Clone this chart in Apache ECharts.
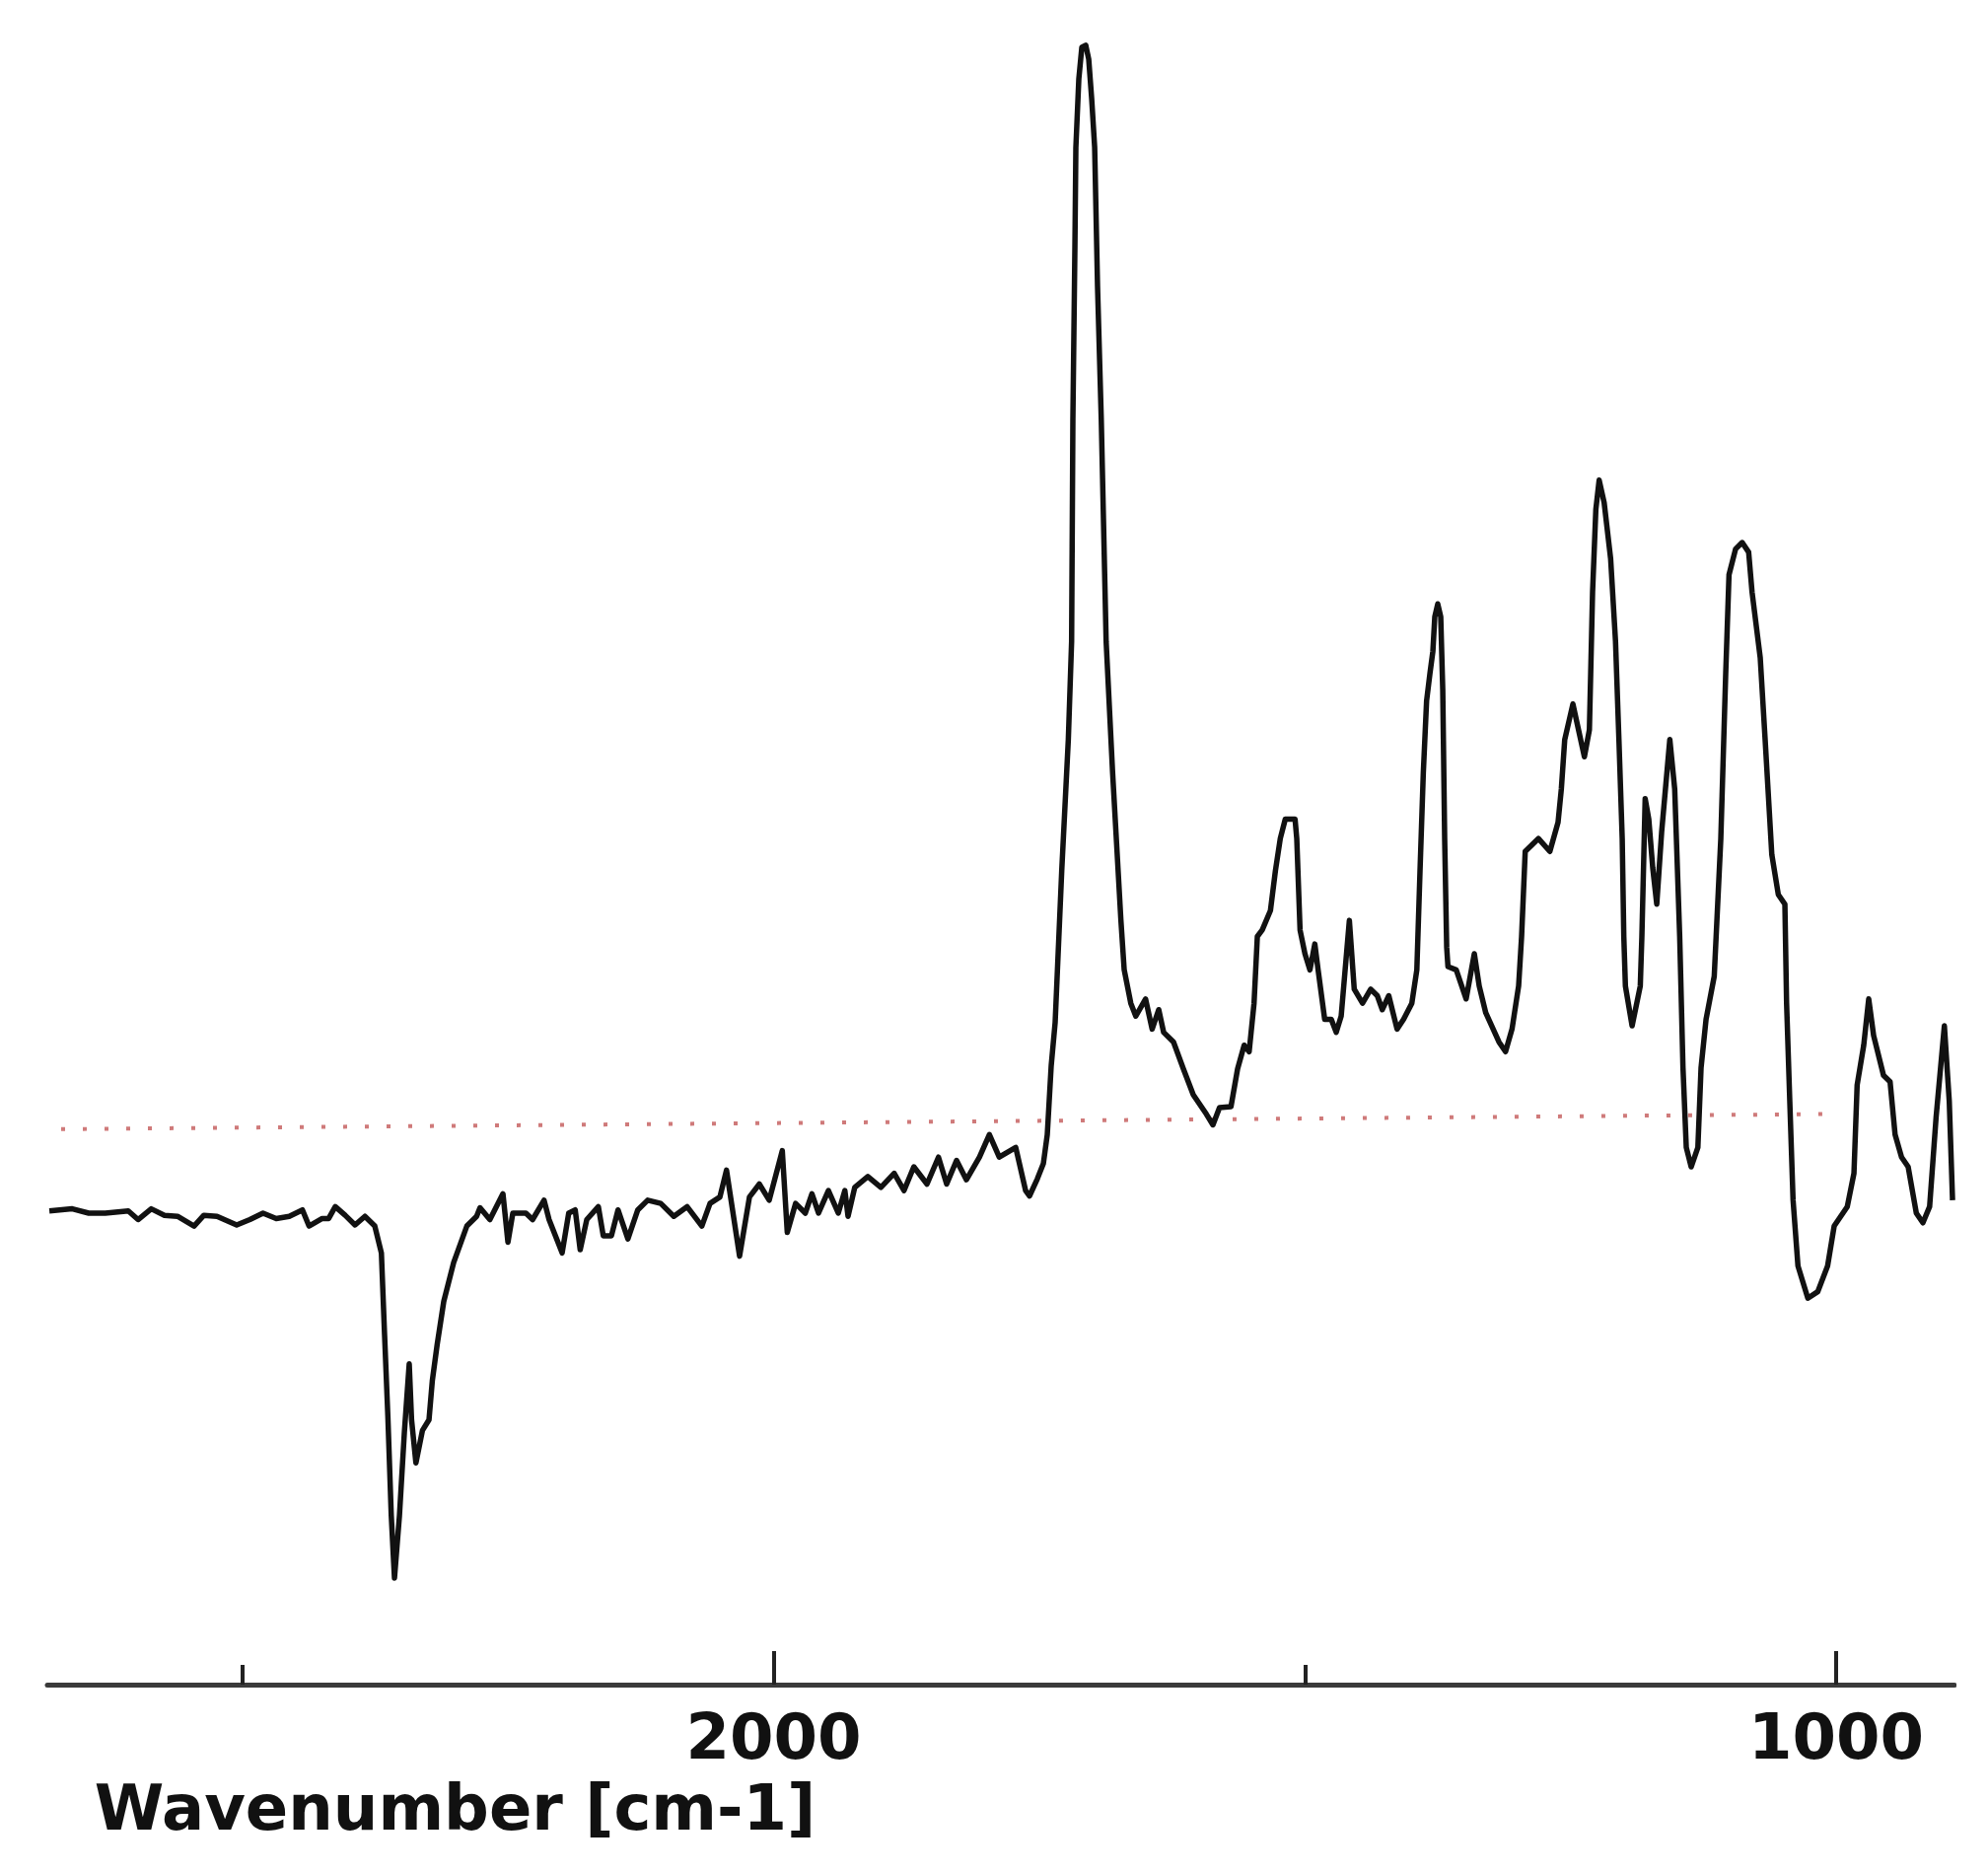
<!DOCTYPE html>
<html>
<head>
<meta charset="utf-8">
<script src="https://cdn.jsdelivr.net/npm/echarts@6/dist/echarts.min.js"></script>
<style>
  html, body { margin: 0; padding: 0; background: #ffffff; }
  #clip { position: absolute; left: 0; top: 0; width: 1984px; height: 1899px; overflow: hidden; background: #fff; }
  #chart { width: 2016px; height: 1899px; }
</style>
</head>
<body>
<div id="clip"><div id="chart"></div></div>
<script>
// Wavenumber (cm-1) positions
const wavenumbers = [
  2681.7, 2660.1, 2644.6, 2629.1, 2607.4, 2598.2, 2585.8, 2573.4, 2561.1, 2545.5, 2536.3, 2523.9, 2505.4, 2493.0, 2480.6, 2468.2, 2455.9, 2443.5, 2437.3, 2424.9, 2418.8, 2412.6, 2403.3, 2394.0, 2384.7, 2375.4, 2369.2, 2366.2, 2363.1, 2359.9, 2356.9, 2352.2, 2347.6, 2343.0, 2340.8, 2336.7, 2330.6, 2324.4, 2321.3, 2316.7, 2310.5, 2301.2, 2288.8, 2279.6, 2276.4, 2267.1, 2254.8, 2250.1, 2245.5, 2233.2, 2226.9,
  2216.1, 2211.4, 2199.1, 2192.9, 2186.8, 2182.1, 2175.9, 2165.0, 2160.4, 2152.7, 2146.5, 2137.2, 2127.9, 2118.6, 2106.3, 2094.0, 2081.5, 2067.6, 2059.9, 2050.6, 2044.4, 2032.1, 2022.8, 2013.5, 2004.2, 1991.9, 1987.2, 1979.4, 1970.2, 1964.0, 1957.8, 1948.5, 1939.2, 1933.0, 1930.0, 1923.7, 1911.4, 1899.1, 1886.6, 1877.3, 1868.1, 1855.7, 1844.9, 1837.2, 1827.9, 1818.6, 1806.3, 1797.0, 1787.7, 1772.2, 1762.9,
  1759.2, 1751.8, 1746.2, 1742.5, 1738.8, 1735.1, 1728.9, 1722.7, 1719.6, 1718.4, 1716.5, 1715.6, 1712.8, 1710.0, 1706.3, 1703.5, 1700.7, 1697.9, 1695.2, 1691.7, 1687.1, 1681.0, 1673.2, 1670.1, 1663.9, 1659.2, 1650.0, 1643.8, 1637.6, 1633.0, 1623.7, 1614.4, 1605.1, 1592.8, 1586.6, 1580.4, 1569.6, 1563.4, 1557.2, 1552.5, 1547.9, 1544.8, 1540.2, 1532.5, 1527.8, 1523.2, 1518.5, 1509.3, 1507.7, 1504.6, 1500.0, 1495.3, 1490.7, 1487.6, 1481.4, 1475.2, 1470.6, 1465.9, 1458.2, 1453.6, 1445.8, 1438.1, 1431.9, 1427.2, 1421.1, 1413.3, 1407.2, 1399.4, 1394.7, 1391.7, 1388.6, 1385.5, 1382.4,
  1379.6, 1377.8, 1375.0, 1372.2, 1370.3, 1368.5, 1366.6, 1365.4, 1357.6, 1348.3, 1340.6, 1336.0, 1329.8, 1317.4, 1311.2, 1305.1, 1298.9,
  1296.1, 1292.7, 1280.3, 1269.5, 1261.8, 1258.7, 1255.5, 1247.8, 1243.2, 1237.0, 1232.3, 1229.3, 1226.2, 1223.1, 1218.4, 1212.3, 1207.7, 1204.5, 1201.4, 1199.9, 1198.4, 1192.1, 1184.4, 1182.9, 1179.8, 1176.4, 1172.7, 1168.9, 1164.3, 1156.6, 1152.0, 1147.3, 1144.2, 1141.1, 1136.5, 1130.2, 1127.2, 1122.5, 1114.8, 1108.6, 1104.0, 1100.9, 1094.7, 1088.5, 1082.4, 1079.2, 1071.5, 1066.9, 1060.6, 1054.5, 1048.3, 1046.7, 1043.7, 1040.6, 1036.0, 1026.7, 1017.4, 1008.1, 1001.9, 989.6, 983.3, 980.3, 974.1, 969.4, 964.8, 955.5, 949.3, 944.6, 938.5, 932.3, 924.6, 918.4, 912.1, 906.0, 898.2, 893.6, 890.5
];

// Signal (arbitrary units, dotted baseline = 0)
const absorbance = [
  -0.080, -0.078, -0.082, -0.082, -0.080, -0.088, -0.078, -0.084, -0.085, -0.094, -0.084, -0.085, -0.093, -0.088, -0.082, -0.087, -0.085, -0.079, -0.094, -0.087, -0.087, -0.076, -0.084, -0.093, -0.085, -0.094, -0.119, -0.195, -0.271, -0.363, -0.421, -0.363, -0.286, -0.222, -0.274, -0.314, -0.284, -0.274, -0.238, -0.204, -0.164, -0.128, -0.094, -0.085, -0.077, -0.088, -0.064, -0.109, -0.082, -0.082, -0.088,
  -0.070, -0.088, -0.119, -0.082, -0.079, -0.116, -0.088, -0.076, -0.103, -0.103, -0.079, -0.106, -0.079, -0.070, -0.073, -0.085, -0.076, -0.094, -0.073, -0.067, -0.042, -0.122, -0.067, -0.055, -0.070, -0.024, -0.100, -0.073, -0.082, -0.064, -0.082, -0.061, -0.082, -0.061, -0.085, -0.058, -0.048, -0.058, -0.045, -0.061, -0.039, -0.055, -0.030, -0.055, -0.033, -0.051, -0.030, -0.009, -0.030, -0.021, -0.061,
  -0.066, -0.050, -0.036, -0.009, 0.055, 0.095, 0.236, 0.358, 0.449, 0.656, 0.816, 0.908, 0.972, 1.001, 1.003, 0.990, 0.953, 0.908, 0.779, 0.656, 0.449, 0.327, 0.190, 0.144, 0.113, 0.101, 0.117, 0.089, 0.107, 0.086, 0.077, 0.052, 0.028, 0.010, 0.000, 0.016, 0.017, 0.052, 0.074, 0.068, 0.113, 0.175, 0.181, 0.199, 0.236, 0.266, 0.284, 0.284, 0.266, 0.181, 0.159, 0.144, 0.168, 0.144, 0.098, 0.098, 0.086, 0.101, 0.190, 0.126, 0.113, 0.126, 0.120, 0.107, 0.120, 0.089, 0.098, 0.113, 0.144, 0.236, 0.327, 0.394, 0.419,
  0.440, 0.472, 0.484, 0.472, 0.404, 0.266, 0.165, 0.147, 0.144, 0.117, 0.159, 0.129, 0.104, 0.077, 0.068, 0.089, 0.129,
  0.175, 0.254, 0.266, 0.254, 0.281, 0.312, 0.358, 0.391, 0.370, 0.342, 0.367, 0.495, 0.572, 0.599, 0.578, 0.526, 0.449, 0.358, 0.266, 0.175, 0.129, 0.092, 0.129, 0.175, 0.303, 0.284, 0.239, 0.205, 0.272, 0.358, 0.312, 0.175, 0.053, -0.021, -0.039, -0.021, 0.053, 0.098, 0.138, 0.266, 0.419, 0.511, 0.535, 0.541, 0.532, 0.495, 0.434, 0.358, 0.251, 0.214, 0.205, 0.113, 0.022, -0.070, -0.131, -0.161, -0.155, -0.131, -0.094, -0.076, -0.045, 0.037, 0.074, 0.117, 0.083, 0.046, 0.040, -0.009, -0.030, -0.039, -0.082, -0.091, -0.076, 0.007, 0.092, 0.022, -0.070
];

// Dotted reference (zero) line, ends
const baselineWavenumbers = [2670.6, 1011.2];
const baselineValues = [-0.004, 0.010];

// Axis ticks and labels
const labelledTicks = [2000, 1000];
const minorTicks = [2500, 1500];
const axisTitle = 'Wavenumber [cm-1]';
const xMin = 888.7, xMax = 2683.6;
const yMin = -0.52, yMax = 1.0;

const spectrum = wavenumbers.map((w, i) => [w, absorbance[i]]);
const baseline = baselineWavenumbers.map((w, i) => [w, baselineValues[i]]);

const FONT = 'DejaVu Sans';
const chart = echarts.init(document.getElementById('chart'), null, { renderer: 'canvas' });
chart.setOption({
  animation: false,
  backgroundColor: '#ffffff',
  grid: { left: 48, right: 34, top: 49.1, bottom: 191, containLabel: false },
  xAxis: [
    {
      type: 'value', min: xMin, max: xMax, inverse: true, position: 'bottom',
      axisLine: { show: true, onZero: false, lineStyle: { color: '#3a3a3a', width: 5 } },
      axisTick: { show: true, inside: true, length: 34, customValues: labelledTicks, lineStyle: { color: '#222', width: 4 } },
      axisLabel: {
        show: true, customValues: labelledTicks, formatter: v => String(v), margin: 26,
        fontSize: 64, fontFamily: FONT, fontWeight: 'bold', color: '#111'
      },
      splitLine: { show: false },
      name: axisTitle, nameLocation: 'middle', nameGap: 98,
      nameTextStyle: { fontSize: 64, fontFamily: FONT, fontWeight: 'bold', color: '#111', padding: [0, 1107, 0, 0] }
    },
    {
      type: 'value', min: xMin, max: xMax, inverse: true, position: 'bottom',
      axisLine: { show: false, onZero: false },
      axisTick: { show: true, inside: true, length: 20, customValues: minorTicks, lineStyle: { color: '#222', width: 4 } },
      axisLabel: { show: false },
      splitLine: { show: false }
    }
  ],
  yAxis: { type: 'value', min: yMin, max: yMax, show: false, splitLine: { show: false } },
  series: [
    {
      type: 'line', name: 'baseline', xAxisIndex: 0, data: baseline, symbol: 'none', silent: true,
      lineStyle: { color: '#cf7a7a', width: 4, type: [4, 18] }, z: 1
    },
    {
      type: 'line', name: 'spectrum', xAxisIndex: 0, data: spectrum, symbol: 'none', clip: false,
      lineStyle: { color: '#111111', width: 5.5, join: 'round' }, z: 2
    }
  ]
});
</script>
</body>
</html>
